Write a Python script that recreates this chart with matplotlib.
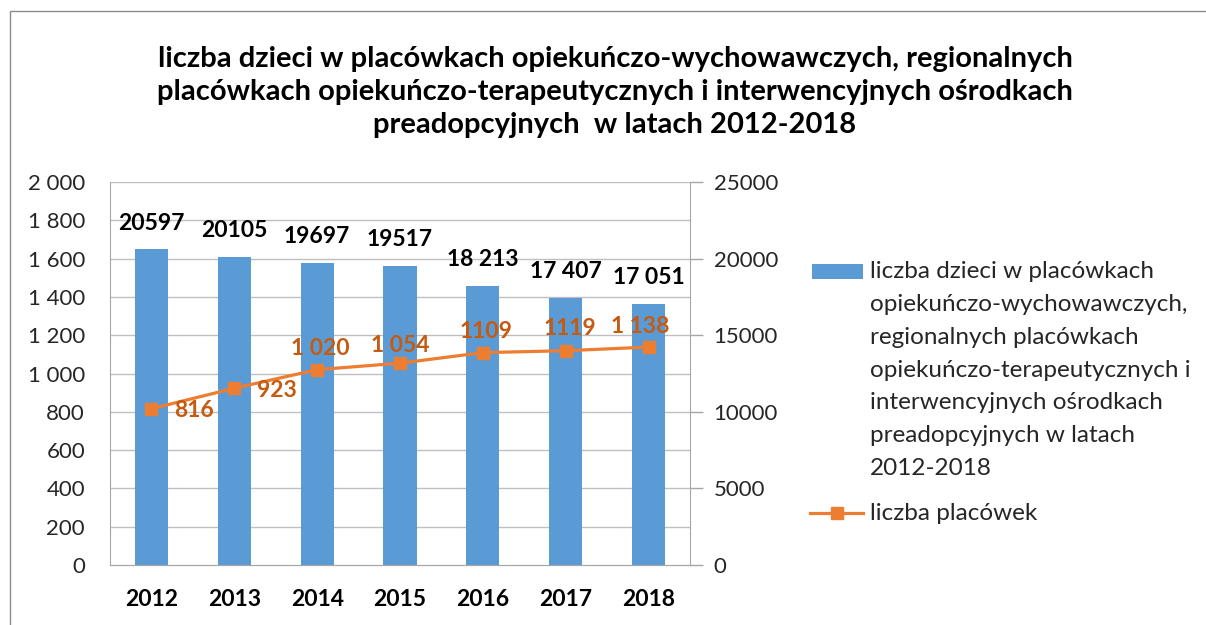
import numpy as np
import matplotlib.pyplot as plt
from matplotlib.patches import Rectangle
from matplotlib.lines import Line2D

plt.rcParams["font.family"] = ["Lato", "DejaVu Sans"]

years = ["2012", "2013", "2014", "2015", "2016", "2017", "2018"]
children = [20597, 20105, 19697, 19517, 18213, 17407, 17051]
children_labels = ["20597", "20105", "19697", "19517", "18 213", "17 407", "17 051"]
facilities = [816, 923, 1020, 1054, 1109, 1119, 1138]
facilities_labels = ["816", "923", "1 020", "1 054", "1109", "1119", "1 138"]
left_ticks = [0, 200, 400, 600, 800, 1000, 1200, 1400, 1600, 1800, 2000]
left_tick_labels = ["0", "200", "400", "600", "800", "1 000", "1 200", "1 400", "1 600", "1 800", "2 000"]
right_ticks = [0, 5000, 10000, 15000, 20000, 25000]

BAR = "#5B9BD5"
LINE = "#ED7D31"
LABEL_ORANGE = "#C55A11"
GRID = "#BFBFBF"
SPINE = "#A6A6A6"
TEXT = "#262626"

title = ("liczba dzieci w placówkach opiekuńczo-wychowawczych, regionalnych\n"
         "placówkach opiekuńczo-terapeutycznych i interwencyjnych ośrodkach\n"
         "preadopcyjnych  w latach 2012-2018")
bar_legend = ["liczba dzieci w placówkach", "opiekuńczo-wychowawczych,", "regionalnych placówkach",
              "opiekuńczo-terapeutycznych i", "interwencyjnych ośrodkach",
              "preadopcyjnych w latach", "2012-2018"]
line_legend = "liczba placówek"

W, H = 1206, 625
fig = plt.figure(figsize=(W / 100, H / 100), dpi=100, facecolor="white")
ax = fig.add_axes([110 / W, 60 / H, 580 / W, 383 / H])
ax2 = ax.twinx()

x = np.arange(len(years))

# bars on secondary (right) axis
ax2.bar(x, children, width=0.4, color=BAR, zorder=2)
ax2.set_ylim(0, 25000)
ax2.set_yticks(right_ticks)
ax2.set_yticklabels([str(v) for v in right_ticks])
for xi, v, lab in zip(x, children, children_labels):
    ax2.annotate(lab, (xi, v), xytext=(0, 19), textcoords="offset points",
                 ha="center", va="center", fontsize=16.5, fontweight="bold", color="black")

# line on primary (left) axis, drawn above bars
ax.set_zorder(ax2.get_zorder() + 1)
ax.patch.set_visible(False)
ax.plot(x, facilities, color=LINE, lw=2.3, marker="s", markersize=9, zorder=3)
ax.set_ylim(0, 2000)
ax.set_yticks(left_ticks)
ax.set_yticklabels(left_tick_labels)
offsets = [(31, -1.5), (31, -1.5), (2, 15), (0, 13), (2, 15), (3, 16), (-6, 15)]
for xi, v, lab, off in zip(x, facilities, facilities_labels, offsets):
    ax.annotate(lab, (xi, v), xytext=off, textcoords="offset points",
                ha="center", va="center", fontsize=16.5, fontweight="bold", color=LABEL_ORANGE)

# gridlines drawn on the bar axis so they sit behind the bars
for t in left_ticks[1:]:
    ax2.axhline(t * 12.5, color=GRID, lw=1, zorder=0)

ax.set_xlim(-0.5, len(years) - 0.5)
ax.set_xticks(x)
ax.set_xticklabels(years, fontsize=16.5, fontweight="bold", color="black")
ax.tick_params(axis="x", length=0, pad=17)
ax.tick_params(axis="y", length=0, pad=18, labelsize=16, labelcolor=TEXT)
ax2.tick_params(axis="y", length=9, width=1, color=SPINE, pad=8, labelsize=16, labelcolor=TEXT)

for a in (ax, ax2):
    a.spines["top"].set_visible(False)
    a.spines["left"].set_color(SPINE)
    a.spines["right"].set_color(SPINE)
    a.spines["bottom"].set_color(SPINE)
ax.spines["right"].set_visible(False)
ax2.spines["left"].set_visible(False)

fig.text(615 / W, 1 - 92 / H, title, ha="center", va="center", fontsize=21,
         fontweight="bold", color="black", linespacing=1.32)

# legend, laid out by hand so the swatch sits on the first text line
fig.patches.append(Rectangle((812 / W, 1 - 279 / H), 51 / W, 15 / H,
                             transform=fig.transFigure, facecolor=BAR, edgecolor="none"))
for i, line in enumerate(bar_legend):
    fig.text(870 / W, 1 - (272 + 32.7 * i) / H, line, ha="left", va="center",
             fontsize=17.5, color=TEXT)
fig.lines.append(Line2D([810 / W, 863 / W], [1 - 513 / H, 1 - 513 / H],
                        transform=fig.transFigure, color=LINE, lw=2.3))
fig.lines.append(Line2D([836.5 / W], [1 - 513 / H], transform=fig.transFigure,
                        color=LINE, marker="s", markersize=9, lw=0))
fig.text(870 / W, 1 - 513 / H, line_legend, ha="left", va="center", fontsize=17.5, color=TEXT)

# outer chart border (cropped at right and bottom)
fig.patches.append(Rectangle((10 / W, -0.1), 1.2, 1.1 - 11 / H,
                             transform=fig.transFigure, fill=False,
                             edgecolor="#8C8C8C", lw=1))

fig.savefig("out.png", dpi=100, facecolor="white")
